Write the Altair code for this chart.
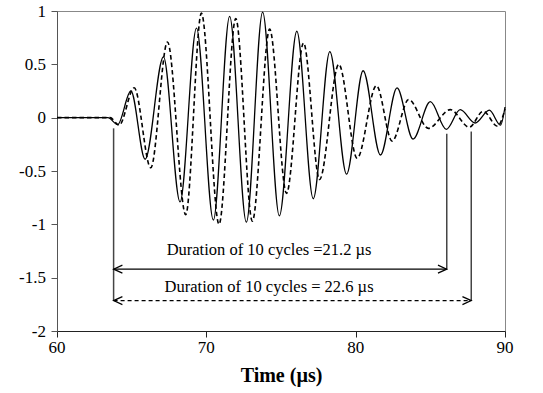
import altair as alt
import pandas as pd

# Solid waveform: time (µs), amplitude read at extrema
solid_t = [60.0, 63.41, 64.06, 64.95, 65.90, 67.13, 68.24, 69.34, 70.47, 71.56, 72.68,
           73.77, 74.89, 76.06, 77.16, 78.27, 79.39, 80.50, 81.66, 82.77, 83.84,
           85.00, 86.07, 87.00, 88.00, 88.95, 89.70, 90.0]
solid_v = [0.0, 0.0, -0.065, 0.25, -0.39, 0.57, -0.79, 0.84, -0.96, 0.95, -0.98,
           0.99, -0.92, 0.81, -0.76, 0.62, -0.53, 0.44, -0.35, 0.28, -0.20,
           0.15, -0.11, 0.075, -0.05, 0.07, -0.07, 0.10]

# Dashed waveform
dash_t = [60.0, 63.55, 64.16, 65.17, 66.28, 67.40, 68.62, 69.67, 70.85, 71.97, 73.08,
          74.24, 75.37, 76.51, 77.58, 78.87, 80.10, 81.39, 82.44, 83.55, 84.87,
          86.34, 87.61, 88.54, 89.50, 90.0]
dash_v = [0.0, 0.0, -0.07, 0.28, -0.47, 0.71, -0.91, 0.98, -1.0, 0.93, -0.97,
          0.83, -0.71, 0.70, -0.58, 0.50, -0.38, 0.30, -0.22, 0.17, -0.10,
          0.075, -0.09, 0.06, -0.08, 0.08]

# Annotation geometry (data units)
vert_x = [63.79, 86.1, 87.74]
vert_top = [-0.10, -0.15, -0.13]
vert_bottom = [-1.715, -1.42, -1.715]

arrow_start = [63.79, 63.79]
arrow_end = [86.1, 87.74]
arrow_y = [-1.42, -1.715]
arrow_kind = ["solid", "dashed"]

label_text = ["Duration of 10 cycles =21.2 µs", "Duration of 10 cycles = 22.6 µs"]
label_x = [74.2, 74.2]
label_y = [-1.29, -1.635]

x_ticks = [60, 70, 80, 90]
x_tick_labels = ["60", "70", "80", "90"]
y_ticks = [-2, -1.5, -1, -0.5, 0, 0.5, 1]
y_tick_labels = ["-2", "-1.5", "-1", "-0.5", "0", "0.5", "1"]

FONT = "Liberation Serif"

solid_df = pd.DataFrame({"t": solid_t, "v": solid_v})
dash_df = pd.DataFrame({"t": dash_t, "v": dash_v})
vert_df = pd.DataFrame({"x": vert_x, "y1": vert_top, "y2": vert_bottom})
arr_df = pd.DataFrame({"x1": arrow_start, "x2": arrow_end, "y": arrow_y, "kind": arrow_kind})
lab_df = pd.DataFrame({"text": label_text, "x": label_x, "y": label_y})
xt_df = pd.DataFrame({"v": x_ticks, "lab": x_tick_labels})
yt_df = pd.DataFrame({"v": y_ticks, "lab": y_tick_labels})

xs = alt.Scale(domain=[60, 90], nice=False, zero=False)
ys = alt.Scale(domain=[-2, 1], nice=False, zero=False)

x_axis = alt.Axis(values=x_ticks, title="Time (µs)", labels=False,
                  grid=False, tickSize=6, domainColor="#222", tickColor="#222",
                  titleFont=FONT, titleFontSize=20, titleFontWeight="bold", titleColor="black",
                  titleY=50, titleBaseline="alphabetic")
y_axis = alt.Axis(values=y_ticks, title=None, labels=False,
                  grid=False, tickSize=6, domainColor="#555", tickColor="#555")

solid = alt.Chart(solid_df).mark_line(color="black", strokeWidth=1.3, interpolate="monotone").encode(
    x=alt.X("t:Q", scale=xs, axis=x_axis),
    y=alt.Y("v:Q", scale=ys, axis=y_axis),
)
dashed = alt.Chart(dash_df).mark_line(color="black", strokeWidth=1.6, strokeDash=[4.5, 3],
                                     interpolate="monotone").encode(
    x=alt.X("t:Q", scale=xs, axis=x_axis),
    y=alt.Y("v:Q", scale=ys, axis=y_axis),
)

verts = alt.Chart(vert_df).mark_rule(color="#444", strokeWidth=1.5).encode(
    x=alt.X("x:Q", scale=xs, axis=x_axis), y=alt.Y("y1:Q", scale=ys, axis=y_axis), y2="y2:Q"
)

arr_solid = alt.Chart(arr_df).transform_filter("datum.kind == 'solid'").mark_rule(
    color="black", strokeWidth=1.2).encode(
    x=alt.X("x1:Q", scale=xs, axis=x_axis), x2="x2:Q", y=alt.Y("y:Q", scale=ys, axis=y_axis)
)
arr_dash = alt.Chart(arr_df).transform_filter("datum.kind == 'dashed'").mark_rule(
    color="black", strokeWidth=1.2, strokeDash=[4, 3]).encode(
    x=alt.X("x1:Q", scale=xs, axis=x_axis), x2="x2:Q", y=alt.Y("y:Q", scale=ys, axis=y_axis)
)

head_left = alt.Chart(arr_df).mark_point(shape="M2.2,-1L0,0L2.2,1", size=64, filled=False,
                                         color="black", strokeWidth=1.2, opacity=1).encode(
    x=alt.X("x1:Q", scale=xs, axis=x_axis), y=alt.Y("y:Q", scale=ys, axis=y_axis)
)
head_right = alt.Chart(arr_df).mark_point(shape="M-2.2,-1L0,0L-2.2,1", size=64, filled=False,
                                          color="black", strokeWidth=1.2, opacity=1).encode(
    x=alt.X("x2:Q", scale=xs, axis=x_axis), y=alt.Y("y:Q", scale=ys, axis=y_axis)
)

labels = alt.Chart(lab_df).mark_text(font=FONT, fontSize=16.5, color="black", align="center",
                                     baseline="alphabetic").encode(
    x=alt.X("x:Q", scale=xs, axis=x_axis), y=alt.Y("y:Q", scale=ys, axis=y_axis), text="text:N"
)

# Tick labels as serif text placed by the scales
xtick_text = alt.Chart(xt_df).mark_text(font=FONT, fontSize=17, color="black", align="center",
                                        baseline="alphabetic").encode(
    x=alt.X("v:Q", scale=xs, axis=x_axis), y=alt.value(342), text="lab:N"
)
ytick_text = alt.Chart(yt_df).mark_text(font=FONT, fontSize=17, color="black", align="right",
                                        baseline="alphabetic", dy=5.6).encode(
    x=alt.value(-11), y=alt.Y("v:Q", scale=ys, axis=y_axis), text="lab:N"
)

chart = alt.layer(verts, arr_solid, arr_dash, head_left, head_right, labels, dashed, solid,
                  xtick_text, ytick_text).properties(
    width=448, height=320,
    padding={"left": 57, "top": 11, "right": 38, "bottom": 62},
    autosize=alt.AutoSizeParams(type="none"),
).configure(background="white").configure_view(stroke="#888", strokeWidth=1)

chart.save("out.html", embed_options={"renderer": "svg", "actions": False})
